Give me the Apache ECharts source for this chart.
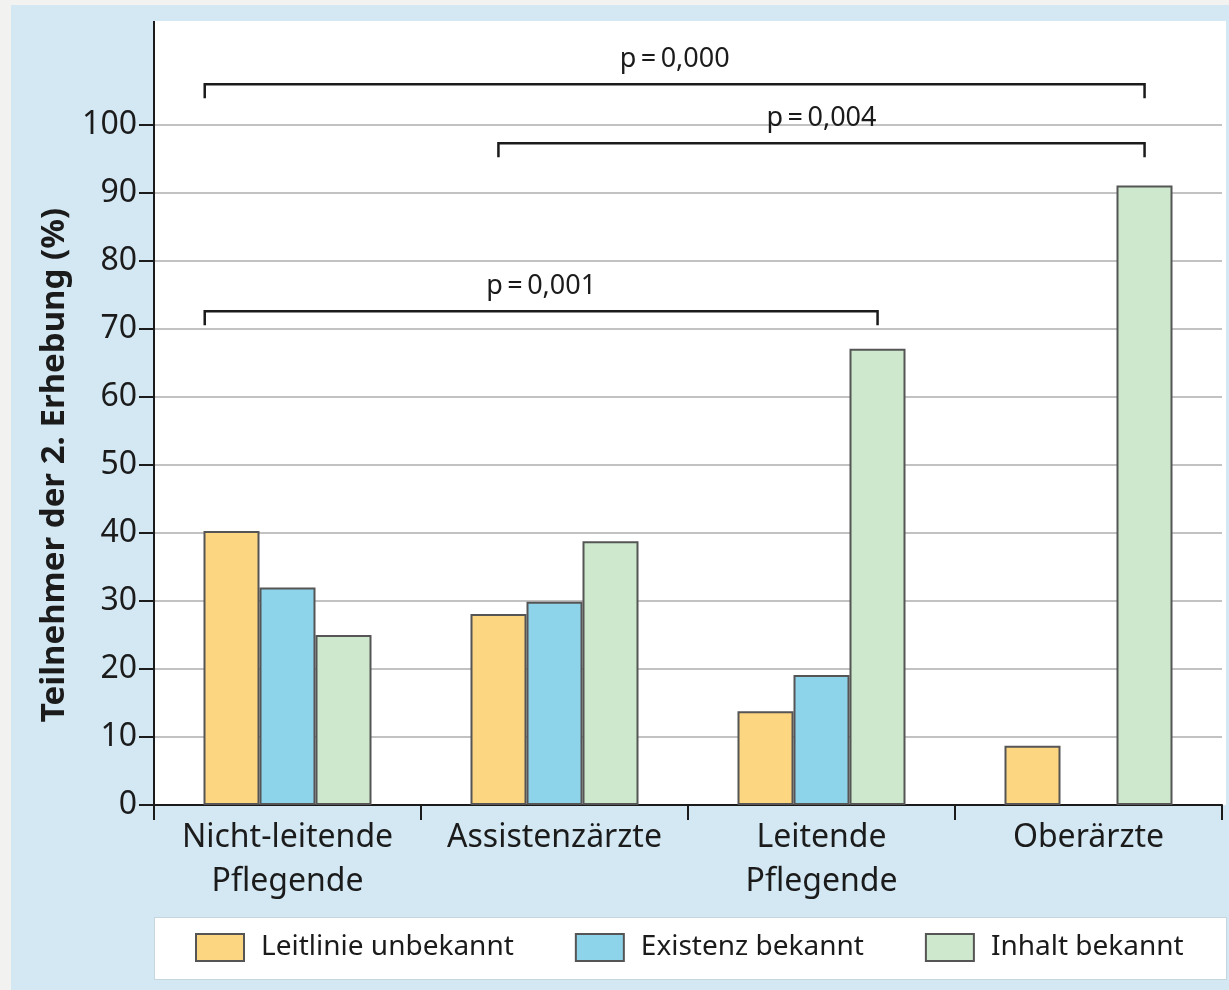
<!DOCTYPE html>
<html>
<head>
<meta charset="utf-8">
<script src="https://cdn.jsdelivr.net/npm/echarts@6/dist/echarts.min.js"></script>
<style>
  html, body { margin: 0; padding: 0; background: #f2f2f0; }
  .panel { position: absolute; left: 11px; top: 5px; width: 1218px; height: 985px; background: #d3e8f3; }
  .plot { position: absolute; left: 155px; top: 21px; width: 1071px; height: 784px; background: #fff; }
  .legendbox { position: absolute; left: 154px; top: 917px; width: 1071px; height: 61px; background: #fff; border: 1px solid #c6d6df; }
  #chart { position: absolute; left: 0; top: 0; width: 1229px; height: 990px; }
</style>
</head>
<body>
<div class="panel"></div>
<div class="plot"></div>
<div class="legendbox"></div>
<div id="chart"></div>
<script>
  // Daten
  const categories = ['Nicht-leitende\nPflegende', 'Assistenzärzte', 'Leitende\nPflegende', 'Oberärzte'];
  const seriesNames = ['Leitlinie unbekannt', 'Existenz bekannt', 'Inhalt bekannt'];
  const unbekannt = [40.3, 28.1, 13.8, 8.7];
  const existenz = [32.0, 29.9, 19.1, null];
  const inhalt = [25.0, 38.8, 67.1, 91.1];
  const yMin = 0, yMax = 100, yStep = 10;

  // Signifikanz-Klammern (Kategorie-Koordinaten, Höhe in %)
  const bracketLabels = ['p\u2009=\u20090,000', 'p\u2009=\u20090,004', 'p\u2009=\u20090,001'];
  const bracketFrom = [-0.31, 0.79, -0.31];
  const bracketTo = [3.21, 3.21, 2.21];
  const bracketLevel = [106, 97.3, 72.6];

  const colors = ['#fdd682', '#8dd3ea', '#cde8cc'];
  const font = 'Noto Sans';

  let myChart = echarts.init(document.getElementById('chart'));
  myChart.setOption({
    animation: false,
    textStyle: {fontFamily: font, color: '#1b1b1b'},
    grid: {
      left: 154,
      right: 7,
      top: 125,
      bottom: 185
    },
    legend: {
      left: 190,
      top: 928,
      itemWidth: 48,
      itemHeight: 27,
      itemGap: 61,
      icon: 'rect',
      data: seriesNames,
      textStyle: {
        fontFamily: font,
        fontSize: 28,
        color: '#1b1b1b',
        padding: [0, 0, 0, 12]
      }
    },
    xAxis: {
      type: 'category',
      data: categories,
      axisLine: {lineStyle: {color: '#1b1b1b', width: 2}},
      axisTick: {show: true, length: 15, lineStyle: {color: '#1b1b1b', width: 2}},
      axisLabel: {
        interval: 0,
        margin: 11,
        fontFamily: font,
        fontSize: 32,
        lineHeight: 44,
        color: '#1b1b1b'
      }
    },
    yAxis: {
      type: 'value',
      min: yMin,
      max: yMax,
      interval: yStep,
      name: 'Teilnehmer der 2. Erhebung (%)',
      nameLocation: 'middle',
      nameGap: 77,
      nameTextStyle: {fontFamily: font, fontSize: 33, fontWeight: 'bold', color: '#1b1b1b'},
      axisLine: {show: true, lineStyle: {color: '#1b1b1b', width: 2}},
      axisTick: {show: true, length: 15, lineStyle: {color: '#1b1b1b', width: 2}},
      axisLabel: {margin: 17, fontFamily: font, fontSize: 32, color: '#1b1b1b'},
      splitLine: {show: true, lineStyle: {color: '#c2c2c2', width: 2}}
    },
    series: [unbekannt, existenz, inhalt].map((d, i) => ({
      name: seriesNames[i],
      type: 'bar',
      data: d,
      barWidth: 56,
      barGap: '0%',
      itemStyle: {color: colors[i], borderColor: '#555', borderWidth: 2}
    }))
  });

  // Klammern und Achsenverlängerung über 100 %
  const c0 = myChart.convertToPixel({xAxisIndex: 0}, 0);
  const c1 = myChart.convertToPixel({xAxisIndex: 0}, 1);
  const band = c1 - c0;
  const axisX = c0 - band / 2;
  const yPx = v => myChart.convertToPixel({yAxisIndex: 0}, v);
  const graphics = [{
    type: 'line',
    shape: {x1: axisX, y1: yPx(yMax), x2: axisX, y2: 21},
    style: {stroke: '#1b1b1b', lineWidth: 2}
  }];
  for (let i = 0; i < bracketLabels.length; i++) {
    const xa = c0 + bracketFrom[i] * band;
    const xb = c0 + bracketTo[i] * band;
    const y = yPx(bracketLevel[i]);
    graphics.push({
      type: 'polyline',
      shape: {points: [[xa, y + 14], [xa, y], [xb, y], [xb, y + 14]]},
      style: {stroke: '#1b1b1b', lineWidth: 2.5, fill: null}
    });
    graphics.push({
      type: 'text',
      x: (xa + xb) / 2,
      y: y - 25,
      style: {
        text: bracketLabels[i],
        fontFamily: font,
        fontSize: 27,
        fill: '#1b1b1b',
        align: 'center',
        verticalAlign: 'middle'
      }
    });
  }
  myChart.setOption({graphic: graphics});
</script>
</body>
</html>
